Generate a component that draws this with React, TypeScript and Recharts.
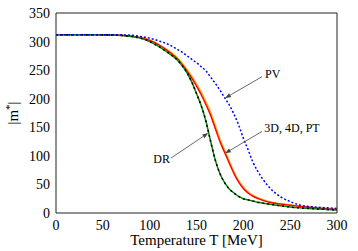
import { LineChart, Line, XAxis, YAxis, ReferenceLine, ReferenceDot, Label } from "recharts";

const temps = [0, 20, 40, 60, 80, 90, 100, 110, 120, 130, 135, 140, 145, 150, 155, 160, 165, 170, 175, 180, 185, 190, 195, 200, 205, 210, 215, 220, 230, 240, 250, 260, 270, 280, 290, 300];

// PV (blue dotted)
const pv = [312, 312, 312, 312, 311, 309, 306, 301, 295, 286, 281, 275, 269, 263, 256, 249, 238, 227, 215, 202, 189, 173, 154, 131, 111, 90, 74, 61, 41, 28, 20, 14, 11.5, 10, 9, 8];
// 3D, 4D, PT (red band)
const d3 = [312, 312, 312, 311.5, 309.5, 307, 302, 294, 283, 269, 259, 248, 236, 222, 207, 190, 171, 148, 125, 106, 87, 69, 54, 43, 35, 29.5, 25.5, 22.5, 18, 15.5, 13.5, 11.5, 10, 8.5, 7, 6];
const d4 = [312, 312, 312, 311.5, 309.5, 307, 302.5, 294.5, 284, 270, 260.5, 250, 238, 224.5, 210, 193, 174.5, 151.5, 128, 108.5, 89.5, 71, 55.5, 44.5, 36, 30.5, 26.5, 23.5, 18.5, 16, 14, 12, 10.5, 9, 7.5, 6.5];
const pt = [312, 312, 312, 311.5, 309.5, 307, 303, 295, 285, 271.5, 262, 251.5, 240, 227, 212.5, 196, 178, 155, 131, 111, 92, 73, 57, 46, 37.5, 31.5, 27.5, 24.5, 19, 16.5, 14.5, 12.5, 11, 9.5, 8, 7];
// DR (green / black dashed)
const dr = [312, 312, 312, 311.5, 309, 306, 300, 291, 280, 267, 257, 245, 229, 209, 188, 161, 126, 93, 69, 53, 42, 35, 29, 25, 23, 21, 19, 17.5, 15, 12.5, 10.5, 9, 8, 7, 6, 5];

const xTicks = [0, 50, 100, 150, 200, 250, 300];
const yTicks = [0, 50, 100, 150, 200, 250, 300, 350];

const notes = [
  { text: "PV", t: 223.1, v: 236.7 },
  { text: "3D, 4D, PT", t: 222.4, v: 142.4 },
  { text: "DR", t: 103.9, v: 87.9 },
];
const arrows = [
  { from: [219.9, 238.5], to: [180.4, 201] },
  { from: [219.9, 142.7], to: [180.4, 104.4] },
  { from: [122.8, 96.2], to: [162.6, 140] },
];

const rows = temps.map((t, i) => ({ t, pv: pv[i], d3: d3[i], d4: d4[i], pt: pt[i], dr: dr[i] }));

const font = "Liberation Serif";
const frame = "#222";

const Arrow = (p: any) => {
  const { x1, y1, x2, y2 } = p;
  const a = Math.atan2(y2 - y1, x2 - x1);
  const len = 6;
  const w = 2.2;
  const bx = x2 - len * Math.cos(a);
  const by = y2 - len * Math.sin(a);
  const pts = `${x2},${y2} ${bx - w * Math.sin(a)},${by + w * Math.cos(a)} ${bx + w * Math.sin(a)},${by - w * Math.cos(a)}`;
  return (
    <g>
      <line x1={x1} y1={y1} x2={bx} y2={by} stroke="#444" strokeWidth={0.8} />
      <polygon points={pts} fill="#444" />
    </g>
  );
};

export default function App() {
  return (
    <div style={{ position: "absolute", left: 0, top: 0, background: "#fff", fontFamily: font }}>
      <LineChart width={358} height={251} data={rows} margin={{ top: 13, right: 21, bottom: 0, left: 0 }} style={{ fontFamily: font }}>
        <XAxis
          dataKey="t"
          type="number"
          domain={[0, 300]}
          ticks={xTicks}
          tickLine={false}
          axisLine={false}
          tickSize={0}
          tickMargin={7}
          height={38}
          tick={{ fontSize: 14, fill: "#000", fontFamily: font }}
        >
          <Label
            content={({ viewBox }: any) => (
              <text x={viewBox.x + viewBox.width / 2} y={viewBox.y + 32} textAnchor="middle" fontSize={15} fontFamily={font} fill="#000">
                Temperature T [MeV]
              </text>
            )}
          />
        </XAxis>
        <XAxis xAxisId="bt" dataKey="t" orientation="bottom" mirror type="number" domain={[0, 300]} ticks={xTicks} tick={false} tickSize={5} stroke={frame} />
        <XAxis xAxisId="tp" dataKey="t" orientation="top" mirror type="number" domain={[0, 300]} ticks={xTicks} tick={false} tickSize={5} stroke={frame} />
        <YAxis
          type="number"
          domain={[0, 350]}
          ticks={yTicks}
          tickLine={false}
          axisLine={false}
          tickSize={0}
          tickMargin={6}
          width={56}
          tick={{ fontSize: 14, fill: "#000", fontFamily: font }}
        >
          <Label
            content={({ viewBox }: any) => {
              const cx = viewBox.x + 18;
              const cy = viewBox.y + viewBox.height / 2;
              return (
                <text x={cx} y={cy} transform={`rotate(-90 ${cx} ${cy})`} textAnchor="middle" fontSize={15} fontFamily={font} fill="#000">
                  |m<tspan dy={-5} fontSize={11}>*</tspan><tspan dy={5}>|</tspan>
                </text>
              );
            }}
          />
        </YAxis>
        <YAxis yAxisId="lf" orientation="left" mirror type="number" domain={[0, 350]} ticks={yTicks} tick={false} tickSize={5} stroke={frame} />
        <YAxis yAxisId="rt" orientation="right" mirror type="number" domain={[0, 350]} ticks={yTicks} tick={false} tickSize={5} stroke={frame} />

        <Line type="monotone" dataKey="pt" stroke="#ffcc33" strokeWidth={1.2} dot={false} isAnimationActive={false} />
        <Line type="monotone" dataKey="d4" stroke="#ff9933" strokeWidth={1.2} dot={false} isAnimationActive={false} />
        <Line type="monotone" dataKey="d3" stroke="#ff0000" strokeWidth={1.4} dot={false} isAnimationActive={false} />
        <Line type="monotone" dataKey="dr" stroke="#008800" strokeWidth={1.5} dot={false} isAnimationActive={false} />
        <Line type="monotone" dataKey="dr" stroke="#000" strokeWidth={1.5} strokeDasharray="2 3" dot={false} isAnimationActive={false} />
        <Line type="monotone" dataKey="pv" stroke="#0000ff" strokeWidth={1.5} strokeDasharray="2 2" dot={false} isAnimationActive={false} />

        {arrows.map((a, i) => (
          <ReferenceLine
            key={`a${i}`}
            segment={[{ x: a.from[0], y: a.from[1] }, { x: a.to[0], y: a.to[1] }]}
            shape={Arrow}
          />
        ))}
        {notes.map((n, i) => (
          <ReferenceDot
            key={`n${i}`}
            x={n.t}
            y={n.v}
            r={0}
            shape={(p: any) => (
              <text x={p.cx} y={p.cy} fontSize={12} fontFamily={font} fill="#000">
                {n.text}
              </text>
            )}
          />
        ))}
      </LineChart>
    </div>
  );
}
